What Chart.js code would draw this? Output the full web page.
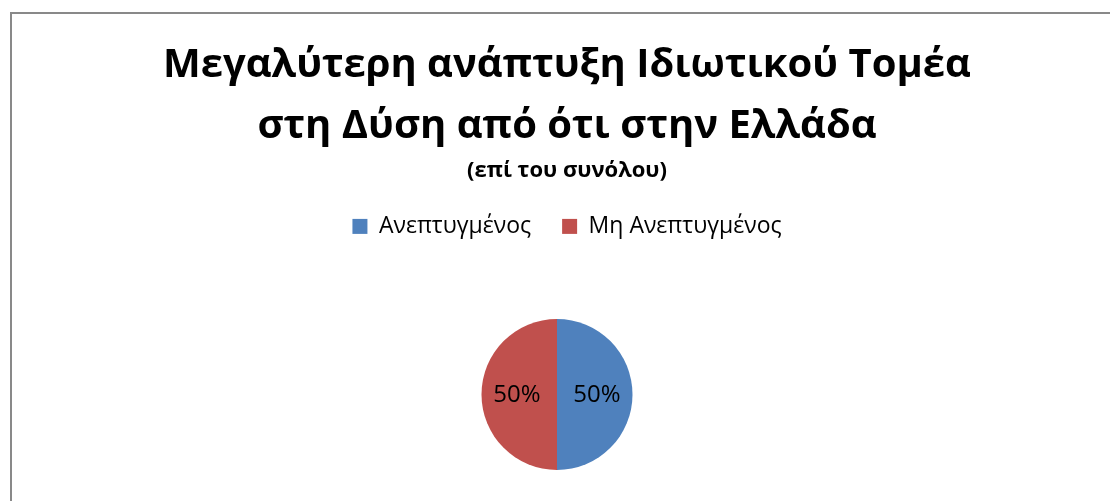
<!DOCTYPE html>
<html lang="el">
<head>
<meta charset="utf-8">
<title>Μεγαλύτερη ανάπτυξη Ιδιωτικού Τομέα</title>
<script src="https://cdn.jsdelivr.net/npm/chart.js@4.4.1/dist/chart.umd.min.js"></script>
<style>
  html, body { margin: 0; padding: 0; background: #ffffff; overflow: hidden; width: 1110px; height: 501px; }
  #frame { position: absolute; left: 10px; top: 12px; width: 1200px; height: 600px; border: 2px solid #898989; box-sizing: border-box; }
  #chart { position: absolute; left: 0; top: 0; }
</style>
</head>
<body>
<div id="frame"></div>
<canvas id="chart" width="1134" height="560"></canvas>
<script>
// Chart text
const titleLines = ['Μεγαλύτερη ανάπτυξη Ιδιωτικού Τομέα', 'στη Δύση από ότι στην Ελλάδα'];
const subtitleText = '(επί του συνόλου)';

// Categories and values (share of answers)
const categories = ['Ανεπτυγμένος', 'Μη Ανεπτυγμένος'];
const shares = [50, 50];
const sliceColors = ['#4F81BD', '#C0504D'];

const FONT = "'Open Sans', 'Noto Sans', sans-serif";

// Empty box on the right of the plot so the pie sits a little left of the title centre
const rightGap = {
  id: 'rightGap',
  beforeInit(chart) {
    Chart.layouts.addBox(chart, {
      position: 'right', weight: 0, fullSize: false, options: {},
      left: 0, top: 0, right: 0, bottom: 0, width: 0, height: 0,
      isHorizontal() { return false; },
      update(maxWidth, maxHeight) { this.width = 20; this.height = maxHeight; },
      draw() {}
    });
  }
};

// Percentage labels inside each slice
const sliceLabels = {
  id: 'sliceLabels',
  afterDatasetsDraw(chart) {
    const ctx = chart.ctx;
    const ds = chart.data.datasets[0];
    const total = ds.data.reduce((a, b) => a + b, 0);
    const meta = chart.getDatasetMeta(0);
    ctx.save();
    ctx.font = "24px " + FONT;
    ctx.fillStyle = '#000000';
    ctx.textAlign = 'center';
    ctx.textBaseline = 'middle';
    meta.data.forEach((arc, i) => {
      const p = arc.getProps(['x', 'y', 'startAngle', 'endAngle', 'outerRadius'], true);
      const mid = (p.startAngle + p.endAngle) / 2;
      const r = p.outerRadius * 0.53;
      const pct = Math.round(ds.data[i] / total * 100) + '%';
      ctx.fillText(pct, p.x + Math.cos(mid) * r, p.y + Math.sin(mid) * r + 1);
    });
    ctx.restore();
  }
};

new Chart(document.getElementById('chart'), {
  type: 'pie',
  data: {
    labels: categories,
    datasets: [{
      data: shares,
      backgroundColor: sliceColors,
      borderWidth: 0,
      radius: 75.5
    }]
  },
  options: {
    responsive: false,
    devicePixelRatio: 1,
    animation: false,
    layout: { padding: { top: 0, left: 0, right: 0, bottom: 19 } },
    plugins: {
      title: {
        display: true,
        text: titleLines,
        color: '#000000',
        font: { family: FONT, size: 40, weight: 'bold', lineHeight: 1.525 },
        padding: { top: 35, bottom: 0 }
      },
      subtitle: {
        display: true,
        text: subtitleText,
        color: '#000000',
        font: { family: FONT, size: 22, weight: 'bold', lineHeight: 1.2 },
        padding: { top: 0.5, bottom: 0 }
      },
      legend: {
        position: 'top',
        labels: {
          color: '#000000',
          boxWidth: 15,
          boxHeight: 15,
          padding: 31,
          font: { family: FONT, size: 23 }
        }
      },
      tooltip: { enabled: false }
    }
  },
  plugins: [rightGap, sliceLabels]
});
</script>
</body>
</html>
